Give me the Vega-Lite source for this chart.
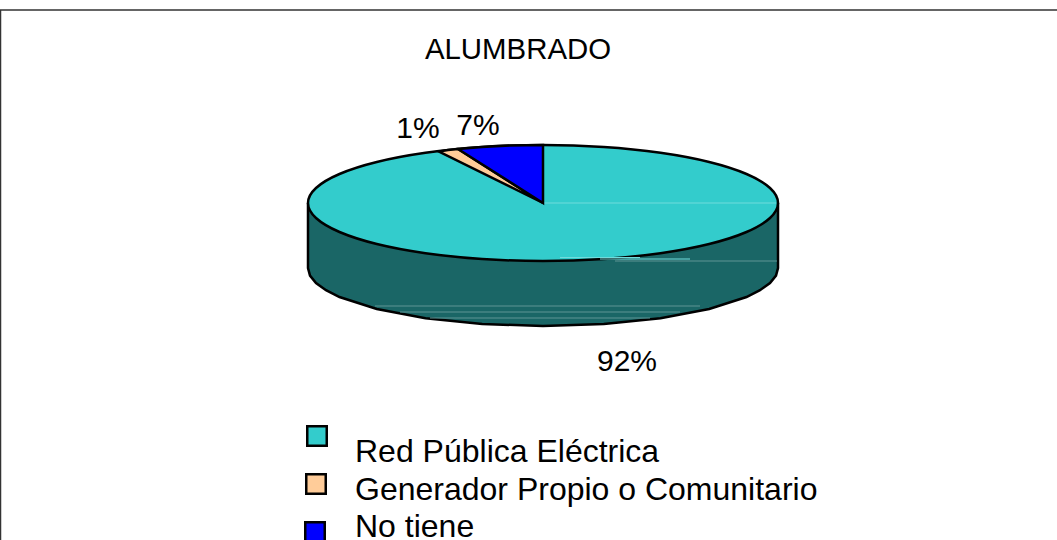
{"$schema":"https://vega.github.io/schema/vega-lite/v6.json","width":1057,"height":540,"autosize":{"type":"none"},"padding":0,"background":"white","view":{"stroke":null},
"datasets":{
"frame":[{"x":0.5,"y":540,"o":1},{"x":0.5,"y":10,"o":2},{"x":1057,"y":10,"o":3}],
"side":[{"x":308,"y":203,"o":1},{"x":308,"y":268,"o":2},{"x":310,"y":275.6,"o":3},{"x":316,"y":283,"o":4},{"x":326,"y":290.2,"o":5},{"x":339.5,"y":297,"o":6},{"x":376.8,"y":309,"o":7},{"x":425.5,"y":318.2,"o":8},{"x":482.2,"y":324,"o":9},{"x":543,"y":326,"o":10},{"x":603.8,"y":324,"o":11},{"x":660.5,"y":318.2,"o":12},{"x":709.2,"y":309,"o":13},{"x":746.5,"y":297,"o":14},{"x":760,"y":290.2,"o":15},{"x":770,"y":283,"o":16},{"x":776,"y":275.6,"o":17},{"x":778,"y":268,"o":18},{"x":778,"y":203,"o":19}],
"top":[{"x":543,"y":145,"o":1},{"x":603.8,"y":147,"o":2},{"x":660.5,"y":152.8,"o":3},{"x":709.2,"y":162,"o":4},{"x":746.5,"y":174,"o":5},{"x":770,"y":188,"o":6},{"x":778,"y":203,"o":7},{"x":770,"y":218,"o":8},{"x":746.5,"y":232,"o":9},{"x":709.2,"y":244,"o":10},{"x":660.5,"y":253.2,"o":11},{"x":603.8,"y":259,"o":12},{"x":543,"y":261,"o":13},{"x":482.2,"y":259,"o":14},{"x":425.5,"y":253.2,"o":15},{"x":376.8,"y":244,"o":16},{"x":339.5,"y":232,"o":17},{"x":316,"y":218,"o":18},{"x":308,"y":203,"o":19},{"x":316,"y":188,"o":20},{"x":339.5,"y":174,"o":21},{"x":376.8,"y":162,"o":22},{"x":425.5,"y":152.8,"o":23},{"x":482.2,"y":147,"o":24}],
"orange":[{"x":543,"y":203,"o":1},{"x":439,"y":151.5,"o":2},{"x":448,"y":150,"o":3},{"x":458,"y":149,"o":4}],
"blue":[{"x":543,"y":203,"o":1},{"x":458,"y":149,"o":2},{"x":482,"y":147,"o":3},{"x":510,"y":145.5,"o":4},{"x":543,"y":145,"o":5}],
"sheenTop":[{"x":543,"y":203,"g":"a"},{"x":776,"y":203,"g":"a"},{"x":600,"y":259,"g":"b"},{"x":690,"y":259,"g":"b"},{"x":560,"y":257.5,"g":"c"},{"x":640,"y":257.5,"g":"c"}],
"sheenSide":[{"x":615,"y":261,"g":"d"},{"x":777,"y":261,"g":"d"},{"x":375,"y":306,"g":"e"},{"x":700,"y":306,"g":"e"},{"x":400,"y":312,"g":"f"},{"x":680,"y":312,"g":"f"},{"x":430,"y":318,"g":"h"},{"x":650,"y":318,"g":"h"}],
"title":[{"x":518,"y":59,"t":"ALUMBRADO"}],
"labels":[{"x":418,"y":138,"t":"1%"},{"x":478,"y":135,"t":"7%"},{"x":627,"y":371,"t":"92%"}],
"legendText":[{"x":355,"y":462,"t":"Red Pública Eléctrica"},{"x":355,"y":500,"t":"Generador Propio o Comunitario"},{"x":355,"y":537,"t":"No tiene"}],
"legendSym":[{"x":317,"y":436,"c":"Red Pública Eléctrica"},{"x":316,"y":484,"c":"Generador Propio o Comunitario"},{"x":315,"y":532,"c":"No tiene"}]
},
"encoding":{"x":{"field":"x","type":"quantitative","scale":{"domain":[0,1057],"nice":false,"zero":false},"axis":null},"y":{"field":"y","type":"quantitative","scale":{"domain":[540,0],"nice":false,"zero":false},"axis":null}},
"layer":[
{"data":{"name":"frame"},"mark":{"type":"line","stroke":"#333333","strokeWidth":1.5},"encoding":{"order":{"field":"o"}}},
{"data":{"name":"side"},"mark":{"type":"line","fill":"#1A6666","stroke":"black","strokeWidth":2.5},"encoding":{"order":{"field":"o"}}},
{"data":{"name":"sheenSide"},"mark":{"type":"line","stroke":"#5F9494","strokeWidth":1},"encoding":{"detail":{"field":"g"}}},
{"data":{"name":"top"},"mark":{"type":"line","interpolate":"cardinal-closed","fill":"#33CCCC","stroke":"black","strokeWidth":2.5},"encoding":{"order":{"field":"o"}}},
{"data":{"name":"sheenTop"},"mark":{"type":"line","stroke":"#70DCDC","strokeWidth":1},"encoding":{"detail":{"field":"g"}}},
{"data":{"name":"orange"},"mark":{"type":"line","interpolate":"linear-closed","fill":"#FFCC99","stroke":"black","strokeWidth":2.5},"encoding":{"order":{"field":"o"}}},
{"data":{"name":"blue"},"mark":{"type":"line","interpolate":"linear-closed","fill":"#0000FF","stroke":"black","strokeWidth":2.5},"encoding":{"order":{"field":"o"}}},
{"data":{"name":"title"},"mark":{"type":"text","font":"Liberation Sans","fontSize":29.4,"align":"center","baseline":"alphabetic","color":"black"},"encoding":{"text":{"field":"t"}}},
{"data":{"name":"labels"},"mark":{"type":"text","font":"Liberation Sans","fontSize":30,"align":"center","baseline":"alphabetic","color":"black"},"encoding":{"text":{"field":"t"}}},
{"data":{"name":"legendText"},"mark":{"type":"text","font":"Liberation Sans","fontSize":32,"align":"left","baseline":"alphabetic","color":"black"},"encoding":{"text":{"field":"t"}}},
{"data":{"name":"legendSym"},"mark":{"type":"point","shape":"square","filled":true,"size":380,"stroke":"black","strokeWidth":2.5,"opacity":1},"encoding":{"fill":{"field":"c","type":"nominal","scale":{"domain":["Red Pública Eléctrica","Generador Propio o Comunitario","No tiene"],"range":["#33CCCC","#FFCC99","#0000FF"]},"legend":null}}}
]}
